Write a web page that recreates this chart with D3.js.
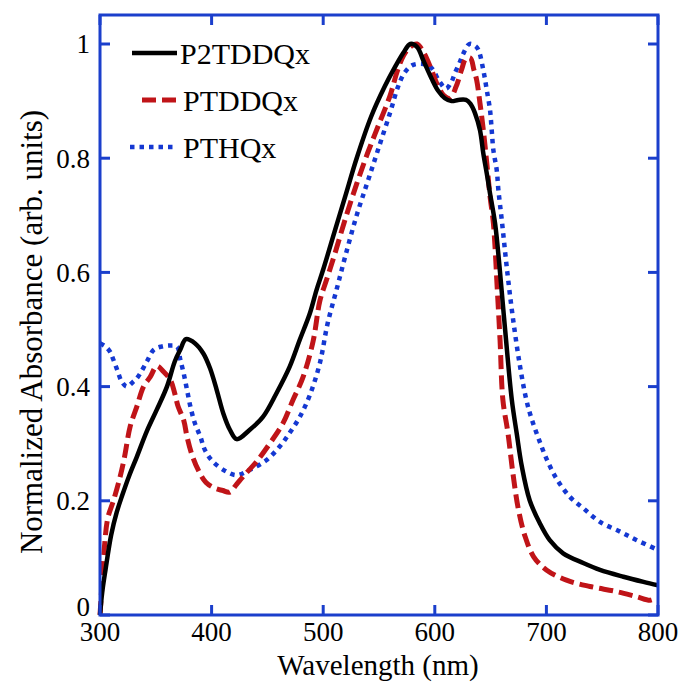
<!DOCTYPE html>
<html>
<head>
<meta charset="utf-8">
<script src="https://d3js.org/d3.v7.min.js"></script>
<style>
body { margin: 0; background: #fff; }
svg text { font-family: "Liberation Serif", "DejaVu Serif", "Nimbus Roman", "FreeSerif", "Noto Serif", "Times New Roman", serif; }
</style>
</head>
<body>
<svg id="vis" width="685" height="683"></svg>
<script>
// tick values
var xTicks = [300, 400, 500, 600, 700, 800];
var yTicks = [0, 0.2, 0.4, 0.6, 0.8, 1];

// legend names
var seriesNames = ["P2TDDQx", "PTDDQx", "PTHQx"];

// [wavelength nm, normalized absorbance]
var p2tddqx = [
  [300,0.0],[302,0.04],[305,0.08],[310,0.14],[315,0.18],[320,0.21],[326,0.243],
  [333,0.277],[342,0.322],[351,0.36],[360,0.40],[367,0.444],[372,0.465],[377,0.483],
  [385,0.476],[392.6,0.458],[398.6,0.432],[404.6,0.394],[410.5,0.353],[416.5,0.324],
  [422.5,0.308],[434,0.324],[446,0.347],[458,0.388],[470,0.435],[479,0.482],[488,0.528],
  [494,0.569],[500,0.605],[510,0.67],[520,0.735],[530,0.80],[543,0.873],[555,0.925],
  [565,0.962],[572,0.985],[578,1.0],[584,0.995],[590,0.97],[597,0.94],[603,0.918],
  [609,0.905],[615,0.9],[621,0.902],[628,0.902],[632,0.895],[636,0.879],[640.5,0.849],
  [643.5,0.808],[646.6,0.773],[649.5,0.738],[654,0.686],[658,0.61],[663,0.50],
  [669,0.377],[673.4,0.318],[678,0.26],[685,0.201],[694,0.161],[703,0.131],[715,0.108],
  [733,0.091],[748,0.079],[769,0.067],[787,0.058],[800,0.052]
];

var ptddqx = [
  [300,0.0],[302,0.06],[304,0.12],[307,0.17],[312,0.2],[318,0.242],[322,0.277],
  [327,0.33],[333,0.365],[339,0.40],[345,0.417],[351,0.436],[357,0.426],[363,0.412],
  [367,0.388],[370,0.365],[375,0.341],[378,0.312],[382,0.283],[388,0.254],[395,0.232],
  [403,0.222],[410,0.218],[416,0.215],[422,0.228],[428,0.242],[440,0.268],[452,0.30],
  [464,0.336],[473,0.377],[482,0.417],[491,0.48],[497,0.55],[503,0.587],[510,0.63],
  [520,0.695],[530,0.755],[540,0.81],[550,0.86],[560,0.91],[566,0.95],[572,0.98],
  [578,0.995],[584,1.0],[590,0.985],[596,0.96],[602,0.93],[608,0.91],[613.6,0.905],
  [619,0.925],[624,0.955],[628,0.975],[632,0.975],[635,0.955],[637.5,0.937],
  [640.5,0.896],[643.5,0.849],[646.6,0.791],[649.5,0.733],[652.5,0.686],[656,0.57],
  [658.5,0.48],[661,0.377],[665.6,0.318],[670,0.248],[675,0.184],[681,0.137],
  [688.6,0.102],[700,0.079],[718,0.061],[739,0.050],[763,0.041],[781,0.032],
  [793,0.026],[798,0.03]
];

var pthqx = [
  [300,0.476],[305,0.47],[309,0.461],[312,0.447],[316,0.426],[319.4,0.409],[324,0.40],
  [330,0.409],[334,0.417],[342,0.444],[348,0.464],[355,0.470],[363,0.472],[369,0.470],
  [372,0.447],[375,0.423],[378,0.394],[381,0.365],[385,0.336],[390,0.312],[394,0.289],
  [401.5,0.268],[413.5,0.251],[422.5,0.245],[434,0.254],[449,0.271],[461,0.295],
  [470,0.319],[479,0.347],[488,0.385],[497,0.441],[504,0.511],[512,0.57],[520,0.63],
  [530,0.70],[540,0.76],[550,0.82],[560,0.88],[567,0.925],[573,0.95],[580,0.963],
  [590,0.965],[597,0.958],[604,0.935],[610,0.922],[615,0.934],[618,0.949],
  [622.6,0.969],[625.5,0.983],[631,1.0],[636,0.997],[639,0.99],[643.5,0.954],
  [646.6,0.919],[649.5,0.884],[651,0.849],[652.5,0.814],[655.5,0.779],[657,0.744],
  [660,0.692],[665,0.6],[670,0.52],[676,0.44],[682,0.377],[687,0.342],[693,0.309],
  [700,0.274],[709,0.239],[721,0.207],[733,0.187],[748,0.163],[766,0.146],
  [781,0.131],[800,0.114]
];

var svg = d3.select("#vis");
var plotLeft = 100, plotRight = 658, plotTop = 15, plotBottom = 615;
var axisBlue = "#1b3fcc";

var x = d3.scaleLinear().domain([300, 800]).range([plotLeft, plotRight]);
// 1 sits at y=44, the frame goes a little above it
var y = d3.scaleLinear().domain([0, 1]).range([plotBottom, 44]);

var styles = [
  {color: "#000000", width: 4.5, dash: null},
  {color: "#c01418", width: 5, dash: "14,6"},
  {color: "#1438d2", width: 4.5, dash: "4.5,5"}
];
var series = [p2tddqx, ptddqx, pthqx];

var line = d3.line()
  .x(function(d) { return x(d[0]); })
  .y(function(d) { return y(d[1]); })
  .curve(d3.curveCatmullRom.alpha(0.5));

// draw blue first, black on top
var order = [2, 1, 0];
order.forEach(function(i) {
  svg.append("path")
    .datum(series[i])
    .attr("d", line)
    .attr("fill", "none")
    .attr("stroke", styles[i].color)
    .attr("stroke-width", styles[i].width)
    .attr("stroke-dasharray", styles[i].dash)
    .attr("stroke-linejoin", "round");
});

// frame
svg.append("rect")
  .attr("x", plotLeft).attr("y", plotTop)
  .attr("width", plotRight - plotLeft).attr("height", plotBottom - plotTop)
  .attr("fill", "none")
  .attr("stroke", axisBlue)
  .attr("stroke-width", 3);

// inward ticks on all four sides
var tickLen = 10;
xTicks.forEach(function(t) {
  svg.append("line").attr("x1", x(t)).attr("x2", x(t))
    .attr("y1", plotBottom).attr("y2", plotBottom - tickLen)
    .attr("stroke", axisBlue).attr("stroke-width", 3);
  svg.append("line").attr("x1", x(t)).attr("x2", x(t))
    .attr("y1", plotTop).attr("y2", plotTop + tickLen)
    .attr("stroke", axisBlue).attr("stroke-width", 3);
});
yTicks.forEach(function(t) {
  svg.append("line").attr("x1", plotLeft).attr("x2", plotLeft + tickLen)
    .attr("y1", y(t)).attr("y2", y(t))
    .attr("stroke", axisBlue).attr("stroke-width", 3);
  svg.append("line").attr("x1", plotRight).attr("x2", plotRight - tickLen)
    .attr("y1", y(t)).attr("y2", y(t))
    .attr("stroke", axisBlue).attr("stroke-width", 3);
});

// tick labels
svg.selectAll(".xl").data(xTicks).enter().append("text")
  .attr("class", "xl")
  .attr("x", function(d) { return x(d); })
  .attr("y", 641)
  .attr("text-anchor", "middle")
  .attr("font-size", "27px")
  .text(function(d) { return d; });

svg.selectAll(".yl").data(yTicks).enter().append("text")
  .attr("class", "yl")
  .attr("x", 90)
  .attr("y", function(d) { return d === 0 ? y(d) - 8 : y(d); })
  .attr("dy", "0.35em")
  .attr("text-anchor", "end")
  .attr("font-size", "27px")
  .text(function(d) { return d; });

// axis titles
svg.append("text")
  .attr("x", 378).attr("y", 675)
  .attr("text-anchor", "middle")
  .attr("font-size", "29px")
  .text("Wavelength (nm)");

svg.append("text")
  .attr("transform", "translate(42," + 332 + ") rotate(-90)")
  .attr("text-anchor", "middle")
  .attr("font-size", "31px")
  .text("Normalized Absorbance (arb. units)");

// legend
var legendY = [53, 100, 147];
var legendX1 = [132, 142, 130];
seriesNames.forEach(function(name, i) {
  svg.append("line")
    .attr("x1", legendX1[i]).attr("x2", 177)
    .attr("y1", legendY[i]).attr("y2", legendY[i])
    .attr("stroke", styles[i].color)
    .attr("stroke-width", styles[i].width)
    .attr("stroke-dasharray", styles[i].dash);
  svg.append("text")
    .attr("x", i === 0 ? 180 : 183)
    .attr("y", legendY[i])
    .attr("dy", "0.35em")
    .attr("font-size", "30px")
    .text(name);
});
</script>
</body>
</html>
